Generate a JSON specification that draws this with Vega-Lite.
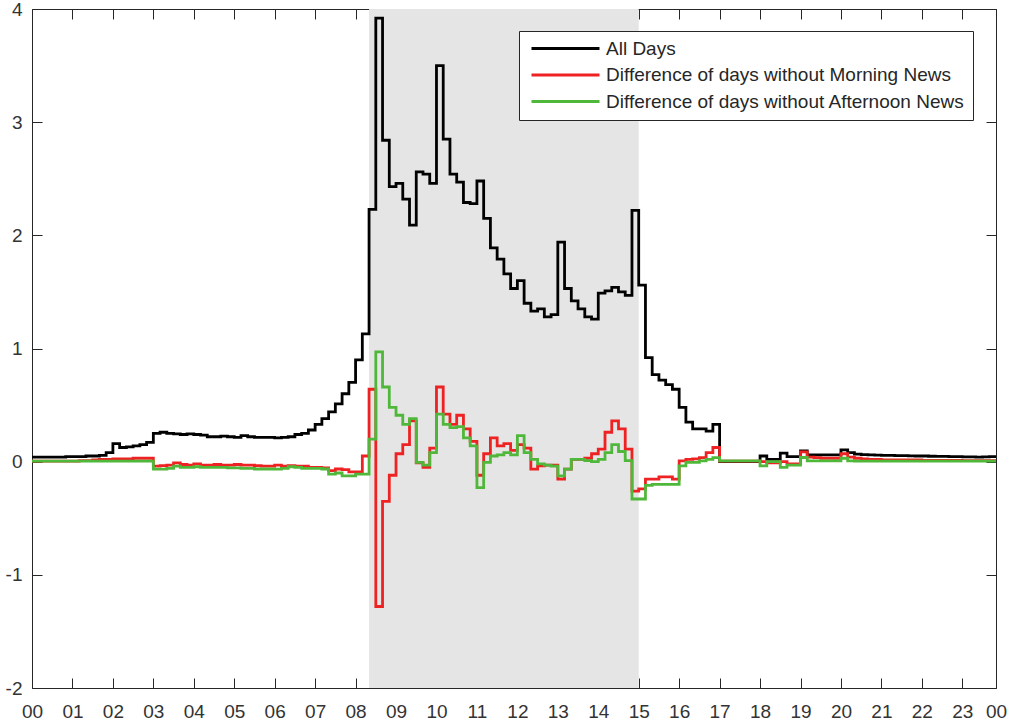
{
  "$schema": "https://vega.github.io/schema/vega-lite/v6.json",
  "usermeta": {"embedOptions": {"actions": false}},
  "width": 964,
  "height": 679,
  "autosize": {"type": "none"},
  "padding": {"left": 32, "top": 9, "right": 21, "bottom": 37},
  "background": "white",
  "config": {
    "view": {"stroke": null},
    "font": "Liberation Sans",
    "axis": {
      "domainColor": "#262626",
      "domainWidth": 1,
      "tickColor": "#262626",
      "tickWidth": 1,
      "tickSize": -10,
      "labelFont": "Liberation Sans",
      "labelFontSize": 19,
      "labelColor": "#333333",
      "labelFlush": false,
      "labelOverlap": false,
      "grid": false,
      "title": null
    }
  },
  "data": {
    "values": [
      {"i":0,"a":0.04,"m":0.005,"f":0.005},
      {"i":1,"a":0.04,"m":0.005,"f":0.005},
      {"i":2,"a":0.04,"m":0.005,"f":0.005},
      {"i":3,"a":0.04,"m":0.005,"f":0.005},
      {"i":4,"a":0.04,"m":0.005,"f":0.005},
      {"i":5,"a":0.045,"m":0.005,"f":0.005},
      {"i":6,"a":0.045,"m":0.005,"f":0.005},
      {"i":7,"a":0.045,"m":0.01,"f":0.005},
      {"i":8,"a":0.05,"m":0.01,"f":0.005},
      {"i":9,"a":0.05,"m":0.015,"f":0.005},
      {"i":10,"a":0.055,"m":0.02,"f":0.005},
      {"i":11,"a":0.08,"m":0.02,"f":0.005},
      {"i":12,"a":0.16,"m":0.025,"f":0.005},
      {"i":13,"a":0.125,"m":0.025,"f":0.005},
      {"i":14,"a":0.13,"m":0.025,"f":0.005},
      {"i":15,"a":0.14,"m":0.03,"f":0.005},
      {"i":16,"a":0.15,"m":0.03,"f":0.005},
      {"i":17,"a":0.17,"m":0.03,"f":0.005},
      {"i":18,"a":0.25,"m":-0.04,"f":-0.066},
      {"i":19,"a":0.26,"m":-0.035,"f":-0.066},
      {"i":20,"a":0.25,"m":-0.03,"f":-0.06},
      {"i":21,"a":0.245,"m":-0.01,"f":-0.04},
      {"i":22,"a":0.24,"m":-0.025,"f":-0.05},
      {"i":23,"a":0.245,"m":-0.03,"f":-0.05},
      {"i":24,"a":0.24,"m":-0.02,"f":-0.045},
      {"i":25,"a":0.235,"m":-0.03,"f":-0.05},
      {"i":26,"a":0.22,"m":-0.03,"f":-0.05},
      {"i":27,"a":0.22,"m":-0.025,"f":-0.05},
      {"i":28,"a":0.225,"m":-0.03,"f":-0.05},
      {"i":29,"a":0.22,"m":-0.03,"f":-0.055},
      {"i":30,"a":0.215,"m":-0.025,"f":-0.055},
      {"i":31,"a":0.23,"m":-0.03,"f":-0.06},
      {"i":32,"a":0.22,"m":-0.03,"f":-0.06},
      {"i":33,"a":0.215,"m":-0.035,"f":-0.065},
      {"i":34,"a":0.215,"m":-0.04,"f":-0.065},
      {"i":35,"a":0.215,"m":-0.04,"f":-0.065},
      {"i":36,"a":0.21,"m":-0.03,"f":-0.066},
      {"i":37,"a":0.215,"m":-0.04,"f":-0.06},
      {"i":38,"a":0.22,"m":-0.035,"f":-0.045},
      {"i":39,"a":0.24,"m":-0.04,"f":-0.05},
      {"i":40,"a":0.25,"m":-0.04,"f":-0.06},
      {"i":41,"a":0.28,"m":-0.05,"f":-0.06},
      {"i":42,"a":0.33,"m":-0.05,"f":-0.06},
      {"i":43,"a":0.38,"m":-0.055,"f":-0.065},
      {"i":44,"a":0.44,"m":-0.08,"f":-0.11},
      {"i":45,"a":0.51,"m":-0.065,"f":-0.1},
      {"i":46,"a":0.6,"m":-0.07,"f":-0.125},
      {"i":47,"a":0.7,"m":-0.09,"f":-0.125},
      {"i":48,"a":0.9,"m":-0.09,"f":-0.11},
      {"i":49,"a":1.13,"m":0.05,"f":-0.11},
      {"i":50,"a":2.23,"m":0.64,"f":0.2},
      {"i":51,"a":3.92,"m":-1.28,"f":0.97},
      {"i":52,"a":2.84,"m":-0.35,"f":0.66},
      {"i":53,"a":2.43,"m":-0.12,"f":0.48},
      {"i":54,"a":2.46,"m":0.07,"f":0.41},
      {"i":55,"a":2.32,"m":0.15,"f":0.33},
      {"i":56,"a":2.09,"m":0.36,"f":0.38},
      {"i":57,"a":2.56,"m":-0.01,"f":-0.007},
      {"i":58,"a":2.54,"m":-0.05,"f":-0.03},
      {"i":59,"a":2.46,"m":0.12,"f":0.08},
      {"i":60,"a":3.5,"m":0.66,"f":0.42},
      {"i":61,"a":2.85,"m":0.42,"f":0.33},
      {"i":62,"a":2.54,"m":0.33,"f":0.3},
      {"i":63,"a":2.47,"m":0.41,"f":0.31},
      {"i":64,"a":2.29,"m":0.29,"f":0.21},
      {"i":65,"a":2.28,"m":0.18,"f":0.14},
      {"i":66,"a":2.48,"m":-0.12,"f":-0.23},
      {"i":67,"a":2.15,"m":0.07,"f":-0.007},
      {"i":68,"a":1.89,"m":0.21,"f":0.05},
      {"i":69,"a":1.79,"m":0.14,"f":0.06},
      {"i":70,"a":1.66,"m":0.16,"f":0.08},
      {"i":71,"a":1.53,"m":0.1,"f":0.06},
      {"i":72,"a":1.6,"m":0.15,"f":0.23},
      {"i":73,"a":1.4,"m":0.12,"f":0.08},
      {"i":74,"a":1.33,"m":-0.066,"f":0.02},
      {"i":75,"a":1.35,"m":-0.037,"f":-0.02},
      {"i":76,"a":1.28,"m":-0.03,"f":-0.03},
      {"i":77,"a":1.3,"m":-0.03,"f":-0.04},
      {"i":78,"a":1.94,"m":-0.155,"f":-0.125},
      {"i":79,"a":1.53,"m":-0.066,"f":-0.066},
      {"i":80,"a":1.42,"m":0.02,"f":0.02},
      {"i":81,"a":1.35,"m":0.02,"f":0.02},
      {"i":82,"a":1.28,"m":0.03,"f":0.01},
      {"i":83,"a":1.26,"m":0.07,"f":0.0},
      {"i":84,"a":1.49,"m":0.11,"f":0.02},
      {"i":85,"a":1.51,"m":0.26,"f":0.08},
      {"i":86,"a":1.54,"m":0.36,"f":0.15},
      {"i":87,"a":1.5,"m":0.29,"f":0.09},
      {"i":88,"a":1.47,"m":0.11,"f":0.01},
      {"i":89,"a":2.22,"m":-0.26,"f":-0.33},
      {"i":90,"a":1.56,"m":-0.24,"f":-0.33},
      {"i":91,"a":0.92,"m":-0.155,"f":-0.21},
      {"i":92,"a":0.77,"m":-0.155,"f":-0.2},
      {"i":93,"a":0.72,"m":-0.135,"f":-0.2},
      {"i":94,"a":0.68,"m":-0.135,"f":-0.2},
      {"i":95,"a":0.64,"m":-0.155,"f":-0.2},
      {"i":96,"a":0.48,"m":0.007,"f":-0.037},
      {"i":97,"a":0.35,"m":0.02,"f":-0.007},
      {"i":98,"a":0.29,"m":0.025,"f":-0.007},
      {"i":99,"a":0.29,"m":0.035,"f":0.007},
      {"i":100,"a":0.27,"m":0.08,"f":0.02},
      {"i":101,"a":0.33,"m":0.125,"f":0.035},
      {"i":102,"a":0,"m":0.005,"f":0.007},
      {"i":103,"a":0,"m":0.005,"f":0.007},
      {"i":104,"a":0,"m":0.005,"f":0.007},
      {"i":105,"a":0,"m":0.005,"f":0.007},
      {"i":106,"a":0,"m":0.005,"f":0.007},
      {"i":107,"a":0,"m":0.005,"f":0.007},
      {"i":108,"a":0.05,"m":0.0,"f":-0.037},
      {"i":109,"a":0.02,"m":-0.01,"f":0.0},
      {"i":110,"a":0.02,"m":-0.01,"f":0.0},
      {"i":111,"a":0.075,"m":0.0,"f":-0.05},
      {"i":112,"a":0.045,"m":-0.02,"f":-0.03},
      {"i":113,"a":0.045,"m":-0.02,"f":-0.03},
      {"i":114,"a":0.095,"m":0.087,"f":0.037},
      {"i":115,"a":0.06,"m":0.04,"f":0.007},
      {"i":116,"a":0.06,"m":0.035,"f":0.007},
      {"i":117,"a":0.06,"m":0.03,"f":0.007},
      {"i":118,"a":0.06,"m":0.03,"f":0.007},
      {"i":119,"a":0.06,"m":0.03,"f":0.007},
      {"i":120,"a":0.105,"m":0.07,"f":0.03},
      {"i":121,"a":0.08,"m":0.04,"f":0.007},
      {"i":122,"a":0.066,"m":0.03,"f":0.005},
      {"i":123,"a":0.062,"m":0.025,"f":0.005},
      {"i":124,"a":0.06,"m":0.02,"f":0.005},
      {"i":125,"a":0.058,"m":0.02,"f":0.005},
      {"i":126,"a":0.056,"m":0.015,"f":0.005},
      {"i":127,"a":0.055,"m":0.015,"f":0.005},
      {"i":128,"a":0.054,"m":0.015,"f":0.005},
      {"i":129,"a":0.053,"m":0.015,"f":0.005},
      {"i":130,"a":0.052,"m":0.015,"f":0.005},
      {"i":131,"a":0.05,"m":0.015,"f":0.005},
      {"i":132,"a":0.05,"m":0.012,"f":0.005},
      {"i":133,"a":0.048,"m":0.012,"f":0.005},
      {"i":134,"a":0.047,"m":0.012,"f":0.005},
      {"i":135,"a":0.046,"m":0.012,"f":0.005},
      {"i":136,"a":0.045,"m":0.012,"f":0.005},
      {"i":137,"a":0.044,"m":0.012,"f":0.005},
      {"i":138,"a":0.043,"m":0.01,"f":0.005},
      {"i":139,"a":0.042,"m":0.01,"f":0.005},
      {"i":140,"a":0.04,"m":0.01,"f":0.005},
      {"i":141,"a":0.042,"m":0.01,"f":0.005},
      {"i":142,"a":0.044,"m":0.01,"f":0.005},
      {"i":143,"a":0.044,"m":0.01,"f":0.005}
    ]
  },
  "layer": [
    {
      "data": {"values": [{"s": 50, "e": 90}]},
      "mark": {"type": "rect", "color": "#e5e5e5"},
      "encoding": {
        "x": {
          "field": "s",
          "type": "quantitative",
          "scale": {"domain": [0, 143], "nice": false, "zero": false},
          "axis": {
            "orient": "bottom",
            "values": [0,6,12,18,24,30,36,42,48,54,60,66,72,78,84,90,96,102,108,114,120,126,132,138,143],
            "labelExpr": "datum.value == 143 ? '00' : format(datum.value / 6, '02d')",
            "labelPadding": 24
          }
        },
        "x2": {"field": "e"},
        "y": {
          "datum": -2,
          "type": "quantitative",
          "scale": {"domain": [-2, 4], "nice": false, "zero": false},
          "axis": {
            "orient": "left",
            "values": [-2,-1,0,1,2,3,4],
            "labelExpr": "toString(datum.value)",
            "labelPadding": 20
          }
        },
        "y2": {"datum": 4}
      }
    },
    {
      "layer": [
        {
          "mark": {"type": "line", "interpolate": "step-after", "strokeWidth": 2.8},
          "encoding": {
            "x": {"field": "i", "type": "quantitative", "axis": {"orient": "top", "values": [0,6,12,18,24,30,36,42,48,54,60,66,72,78,84,90,96,102,108,114,120,126,132,138,143], "labels": false}},
            "y": {"field": "a", "type": "quantitative", "axis": {"orient": "right", "values": [-2,-1,0,1,2,3,4], "labels": false}},
            "color": {
              "datum": "All Days",
              "type": "nominal",
              "scale": {
                "domain": ["All Days", "Difference of days without Morning News", "Difference of days without Afternoon News"],
                "range": ["#000000", "#ee2222", "#4fb83a"]
              },
              "legend": {
                "orient": "none",
                "legendX": 487,
                "legendY": 22,
                "direction": "vertical",
                "title": null,
                "fillColor": "white",
                "strokeColor": "#262626",
                "padding": 8,
                "symbolType": "stroke",
                "symbolSize": 4624,
                "symbolStrokeWidth": 3,
                "symbolOffset": 3,
                "clipHeight": 19,
                "labelFont": "Liberation Sans",
                "labelFontSize": 19,
                "labelColor": "#262626",
                "labelOffset": 5,
                "rowPadding": 6.5,
                "labelLimit": 500
              }
            }
          }
        },
        {
          "mark": {"type": "line", "interpolate": "step-after", "strokeWidth": 2.8},
          "encoding": {
            "x": {"field": "i", "type": "quantitative", "axis": {"orient": "top", "values": [0,6,12,18,24,30,36,42,48,54,60,66,72,78,84,90,96,102,108,114,120,126,132,138,143], "labels": false}},
            "y": {"field": "m", "type": "quantitative", "axis": {"orient": "right", "values": [-2,-1,0,1,2,3,4], "labels": false}},
            "color": {"datum": "Difference of days without Morning News", "type": "nominal"}
          }
        },
        {
          "mark": {"type": "line", "interpolate": "step-after", "strokeWidth": 2.8},
          "encoding": {
            "x": {"field": "i", "type": "quantitative", "axis": {"orient": "top", "values": [0,6,12,18,24,30,36,42,48,54,60,66,72,78,84,90,96,102,108,114,120,126,132,138,143], "labels": false}},
            "y": {"field": "f", "type": "quantitative", "axis": {"orient": "right", "values": [-2,-1,0,1,2,3,4], "labels": false}},
            "color": {"datum": "Difference of days without Afternoon News", "type": "nominal"}
          }
        }
      ]
    }
  ]
}
